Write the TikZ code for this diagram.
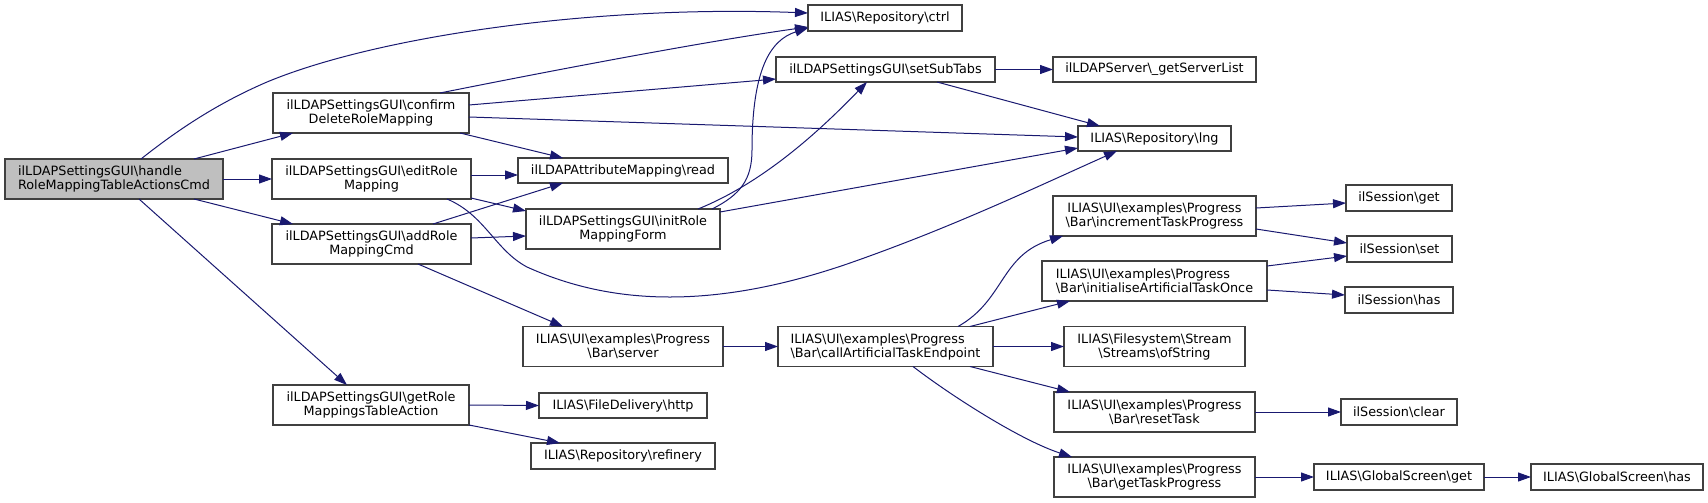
\documentclass[tikz,border=0pt]{standalone}
\usepackage{fontspec}
\setmainfont{DejaVu Sans}
\usetikzlibrary{arrows.meta,calc}
\definecolor{edgec}{HTML}{191970}
\definecolor{boxc}{HTML}{404040}
\definecolor{hfill}{HTML}{BFBFBF}
\newcommand\bsl{\textbackslash}
\tikzset{
  box/.style={draw=boxc, line width=1.2pt, fill=white, inner sep=0pt, outer sep=0pt,
    align=center, font=\fontsize{12.8}{14}\selectfont},
  sz/.style 2 args={minimum width=#1pt, minimum height=#2pt},
  conn/.style={draw=edgec, line width=1pt, -{Triangle[length=13pt,width=9pt]}}
}
\begin{document}
\begin{tikzpicture}[x=1pt,y=-1pt]
\useasboundingbox (0,0) rectangle (1708,503);
% column 1
\node[box, sz={218}{40}, fill=hfill, align=left] (handle) at (114,179) {ilLDAPSettingsGUI\bsl handle\\RoleMappingTableActionsCmd};
% column 2
\node[box, sz={196}{40}] (confirm) at (371,113) {ilLDAPSettingsGUI\bsl confirm\\DeleteRoleMapping};
\node[box, sz={199}{40}] (editRole) at (371.5,179) {ilLDAPSettingsGUI\bsl editRole\\Mapping};
\node[box, sz={199}{40}] (addRole) at (371.5,244) {ilLDAPSettingsGUI\bsl addRole\\MappingCmd};
\node[box, sz={196}{40}] (getRole) at (371,405) {ilLDAPSettingsGUI\bsl getRole\\MappingsTableAction};
% column 3
\node[box, sz={210}{25}] (read) at (623,170.5) {ilLDAPAttributeMapping\bsl read};
\node[box, sz={194}{40}] (initRole) at (623,229) {ilLDAPSettingsGUI\bsl initRole\\MappingForm};
\node[box, sz={200}{40}] (server) at (623,346.5) {ILIAS\bsl UI\bsl examples\bsl Progress\\\bsl Bar\bsl server};
\node[box, sz={168}{25}] (http) at (623,405.5) {ILIAS\bsl FileDelivery\bsl http};
\node[box, sz={184}{26}] (refinery) at (623,456) {ILIAS\bsl Repository\bsl refinery};
% column 4
\node[box, sz={154}{26}] (ctrl) at (885,18) {ILIAS\bsl Repository\bsl ctrl};
\node[box, sz={219}{25}] (setSubTabs) at (885.5,69.5) {ilLDAPSettingsGUI\bsl setSubTabs};
\node[box, sz={215}{40}, align=left] (call) at (885.5,346.5) {ILIAS\bsl UI\bsl examples\bsl Progress\\\bsl Bar\bsl callArtificialTaskEndpoint};
% column 5
\node[box, sz={203}{25}] (getServerList) at (1154.5,69.5) {ilLDAPServer\bsl \_getServerList};
\node[box, sz={153}{25}] (lng) at (1154.5,138.5) {ILIAS\bsl Repository\bsl lng};
\node[box, sz={203}{40}] (increment) at (1154.5,216) {ILIAS\bsl UI\bsl examples\bsl Progress\\\bsl Bar\bsl incrementTaskProgress};
\node[box, sz={225}{40}, align=left] (initialise) at (1154.5,281) {ILIAS\bsl UI\bsl examples\bsl Progress\\\bsl Bar\bsl initialiseArtificialTaskOnce};
\node[box, sz={181}{40}] (ofString) at (1154.5,346.5) {ILIAS\bsl Filesystem\bsl Stream\\\bsl Streams\bsl ofString};
\node[box, sz={201}{40}] (resetTask) at (1154.5,412) {ILIAS\bsl UI\bsl examples\bsl Progress\\\bsl Bar\bsl resetTask};
\node[box, sz={201}{40}] (getTaskProgress) at (1154.5,477) {ILIAS\bsl UI\bsl examples\bsl Progress\\\bsl Bar\bsl getTaskProgress};
% column 6
\node[box, sz={106}{26}] (sget) at (1399,198) {ilSession\bsl get};
\node[box, sz={105}{26}] (sset) at (1399.5,249) {ilSession\bsl set};
\node[box, sz={108}{26}] (shas) at (1399,300) {ilSession\bsl has};
\node[box, sz={116}{26}] (sclear) at (1399,412) {ilSession\bsl clear};
\node[box, sz={170}{26}] (gsget) at (1399,477) {ILIAS\bsl GlobalScreen\bsl get};
% column 7
\node[box, sz={172}{26}] (gshas) at (1617,477) {ILIAS\bsl GlobalScreen\bsl has};

% edges
\draw[conn] ($(handle.north)+(27,0)$) .. controls (190,120) and (230,98) .. (267,82)
  .. controls (380,35) and (600,5) .. ($(ctrl.west)+(0,-5)$);
\draw[conn] ($(handle.north)+(80,0)$) -- ($(confirm.south)+(-78,0)$);
\draw[conn] (handle.east) -- (editRole.west);
\draw[conn] ($(handle.south)+(80,0)$) -- ($(addRole.north)+(-78.5,0)$);
\draw[conn] ($(handle.south)+(25,0)$) -- ($(getRole.north)+(-24,0)$);

\draw[conn] ($(confirm.north)+(69,0)$) .. controls (530,75) and (700,42) .. ($(ctrl.west)+(0,9)$);
\draw[conn] ($(confirm.east)+(0,-8)$) -- ($(setSubTabs.west)+(0,9.5)$);
\draw[conn] ($(confirm.east)+(0,4)$) -- ($(lng.west)+(0,-1.5)$);
\draw[conn] ($(confirm.south)+(89,0)$) -- ($(read.north)+(-60,0)$);

\draw[conn] ($(editRole.east)+(0,-4)$) -- ($(read.west)+(0,4.5)$);
\draw[conn] ($(editRole.east)+(0,19)$) -- ($(initRole.west)+(0,-18)$);
\draw[conn] ($(editRole.south)+(75.5,0)$) .. controls (485,215) and (495,250) .. (527,267)
  .. controls (600,300) and (700,315) .. (850,263)
  .. controls (950,228) and (1030,190) .. ($(lng.south)+(-37.5,0)$);

\draw[conn] ($(addRole.north)+(61.5,0)$) -- ($(read.south)+(-60,0)$);
\draw[conn] ($(addRole.east)+(0,-6)$) -- ($(initRole.west)+(0,7)$);
\draw[conn] ($(addRole.south)+(46.5,0)$) -- ($(server.north)+(-60,0)$);

\draw[conn] ($(initRole.north)+(89,0)$) .. controls (740,195) and (752,180) .. (752,150)
  .. controls (752,70) and (770,40) .. ($(ctrl.west)+(0,10)$);
\draw[conn] ($(initRole.north)+(75,0)$) .. controls (770,180) and (830,120) .. ($(setSubTabs.south)+(-18.5,0)$);
\draw[conn] ($(initRole.east)+(0,-17)$) -- ($(lng.west)+(0,9.5)$);

\draw[conn] (setSubTabs.east) -- (getServerList.west);
\draw[conn] ($(setSubTabs.south)+(51.5,0)$) -- ($(lng.north)+(-54.5,0)$);

\draw[conn] (server.east) -- (call.west);
\draw[conn] ($(call.north)+(72.5,0)$) .. controls (1005,300) and (1000,255) .. ($(increment.south)+(-91.5,0)$);
\draw[conn] ($(call.north)+(84.5,0)$) -- ($(initialise.south)+(-84.5,0)$);
\draw[conn] (call.east) -- (ofString.west);
\draw[conn] ($(call.south)+(84.5,0)$) -- ($(resetTask.north)+(-84.5,0)$);
\draw[conn] ($(call.south)+(27.5,0)$) .. controls (950,395) and (1020,440) .. ($(getTaskProgress.north)+(-82.5,0)$);

\draw[conn] ($(increment.east)+(0,-8)$) -- ($(sget.west)+(0,5)$);
\draw[conn] ($(increment.east)+(0,13)$) -- ($(sset.west)+(0,-6)$);
\draw[conn] ($(initialise.east)+(0,-15)$) -- ($(sset.west)+(0,7)$);
\draw[conn] ($(initialise.east)+(0,9)$) -- ($(shas.west)+(0,-5)$);
\draw[conn] (resetTask.east) -- (sclear.west);
\draw[conn] (getTaskProgress.east) -- (gsget.west);
\draw[conn] (gsget.east) -- (gshas.west);

\draw[conn] (getRole.east) -- (http.west);
\draw[conn] ($(getRole.east)+(0,20)$) -- ($(refinery.north)+(-63,0)$);
\end{tikzpicture}
\end{document}
